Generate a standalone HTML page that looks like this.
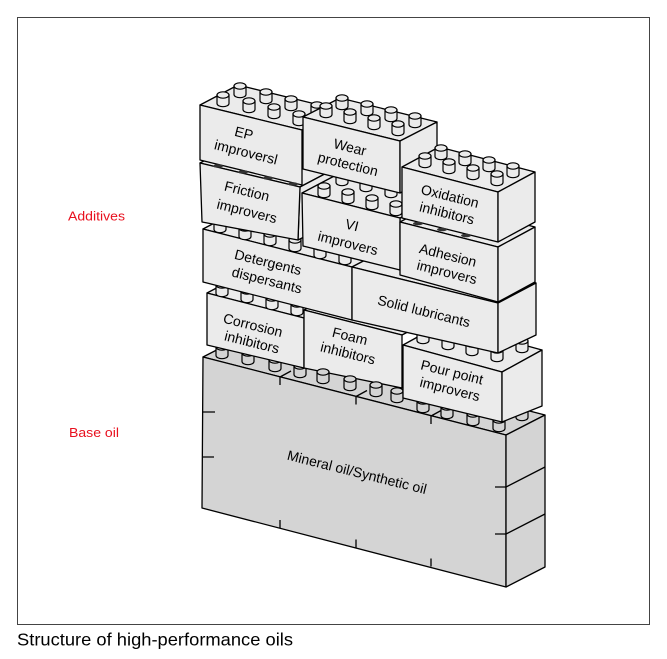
<!DOCTYPE html>
<html><head><meta charset="utf-8"><style>
html,body{margin:0;padding:0;background:#fff;}
svg{display:block;}
text{font-family:"Liberation Sans",Arial,sans-serif;}
</style></head><body>
<svg width="667" height="659" viewBox="0 0 667 659" xmlns="http://www.w3.org/2000/svg">
<defs>
<g id="s"><path d="M-6,0 V8.5 A6,3.2 0 0 0 6,8.5 V0 Z" fill="#ebebeb" stroke="#000" stroke-width="1.2"/><ellipse rx="6" ry="3.2" fill="#ebebeb" stroke="#000" stroke-width="1.2"/></g>
<g id="g"><path d="M-6,0 V8.5 A6,3.2 0 0 0 6,8.5 V0 Z" fill="#d4d4d4" stroke="#000" stroke-width="1.2"/><ellipse rx="6" ry="3.2" fill="#d4d4d4" stroke="#000" stroke-width="1.2"/></g>
</defs>
<rect x="17.5" y="17.5" width="632" height="607" fill="#fff" stroke="#444" stroke-width="1"/>

<g stroke="#000" stroke-width="1.3" stroke-linejoin="round">
<polygon points="203,357 506,435 545,415 242,337" fill="#d4d4d4"/>
<polygon points="203,357 506,435 506,587 202,508" fill="#d4d4d4"/>
<polygon points="506,435 545,415 545,567 506,587" fill="#d4d4d4"/>
<path d="M203,412 h12 M203,457 h11 M280,528 v-8 M356,547.5 v-8 M431,566.5 v-8 M280,377 v8 M356,396.5 v8 M431,416 v8 M280,377 l11,-6 M356,396.5 l11,-6 M431,416 l11,-6 M495,487 h11 l39,-20 M495,534 h11 l39,-20" fill="none"/>
</g>

<use href="#g" x="222" y="347"/><use href="#g" x="248" y="353"/><use href="#g" x="275" y="360"/><use href="#g" x="300" y="366"/>
<use href="#g" x="522" y="409"/>
<use href="#g" x="423" y="401"/><use href="#g" x="447" y="407"/><use href="#g" x="473" y="414"/><use href="#g" x="499" y="420"/>

<g stroke="#000" stroke-width="1.3" stroke-linejoin="round" fill="#ebebeb">
<polygon points="207,293 304,318 342,298 245,273"/>
<polygon points="207,293 304,318 304,368 207,345"/>
<polygon points="304,310 402,335 440,315 342,290"/>
<polygon points="304,310 402,335 402,388 304,368"/>
</g>

<use href="#g" x="323" y="372"/><use href="#g" x="350" y="379"/><use href="#g" x="376" y="385"/><use href="#g" x="397" y="391"/>

<g stroke="#000" stroke-width="1.3" stroke-linejoin="round" fill="#ebebeb">
<polygon points="403,345 502,372 542,350 443,323"/>
<polygon points="403,345 502,372 502,422 403,398"/>
<polygon points="502,372 542,350 542,406 502,422"/>
</g>

<use href="#s" x="522" y="341"/>
<use href="#s" x="423" y="332"/><use href="#s" x="448" y="338"/><use href="#s" x="472" y="344"/><use href="#s" x="497" y="350"/>
<use href="#s" x="222" y="285"/><use href="#s" x="247" y="291"/><use href="#s" x="272" y="298"/><use href="#s" x="297" y="304"/>

<g stroke="#000" stroke-width="1.3" stroke-linejoin="round" fill="#ebebeb">
<polygon points="203,229 352,267 390,247 241,209"/>
<polygon points="352,267 498,303 536,283 390,247"/>
<polygon points="203,229 352,267 352,320 203,282"/>
<polygon points="352,267 498,303 498,353 352,320"/>
<polygon points="498,303 536,283 536,335 498,353"/>
</g>

<use href="#s" x="220" y="221"/><use href="#s" x="245" y="228"/><use href="#s" x="270" y="234"/><use href="#s" x="295" y="240"/><use href="#s" x="320" y="247"/><use href="#s" x="345" y="253"/>

<g stroke="#000" stroke-width="1.3" stroke-linejoin="round" fill="#ebebeb">
<polygon points="200,163 300,187 338,167 238,143"/>
<polygon points="300,187 338,167 338,220 298,240"/>
<polygon points="200,163 300,187 298,240 202,222"/>
<polygon points="400,218 438,198 438,250 400,270"/>
<polygon points="302,193 400,218 438,198 340,173"/>
<polygon points="302,193 400,218 400,270 303,246"/>
<polygon points="400,222 498,247 535,227 437,202"/>
<polygon points="400,222 498,247 498,302 400,275"/>
<polygon points="498,247 535,227 535,282 498,302"/>
</g>

<use href="#s" x="342" y="174"/><use href="#s" x="366" y="180"/><use href="#s" x="391" y="186"/><use href="#s" x="415" y="192"/>

<g stroke="#000" stroke-width="1.3" stroke-linejoin="round" fill="#ebebeb">
<polygon points="200,105 302,130 340,110 238,85"/>
<polygon points="200,105 302,130 302,185 200,160"/>
</g>
<use href="#s" x="240" y="86"/><use href="#s" x="266" y="92"/><use href="#s" x="291" y="99"/><use href="#s" x="317" y="105"/>
<use href="#s" x="223" y="95"/><use href="#s" x="249" y="101"/><use href="#s" x="274" y="107"/><use href="#s" x="299" y="114"/>

<g stroke="#000" stroke-width="1.3" stroke-linejoin="round" fill="#ebebeb">
<polygon points="303,117 400,141 437,122 340,98"/>
<polygon points="303,117 400,141 400,193 303,169"/>
<polygon points="400,141 437,122 437,174 400,193"/>
</g>
<use href="#s" x="342" y="98"/><use href="#s" x="367" y="104"/><use href="#s" x="391" y="110"/><use href="#s" x="415" y="116"/>
<use href="#s" x="326" y="106"/><use href="#s" x="350" y="112"/><use href="#s" x="374" y="118"/><use href="#s" x="398" y="124"/>

<use href="#s" x="324" y="186"/><use href="#s" x="348" y="192"/><use href="#s" x="372" y="198"/><use href="#s" x="396" y="204"/>

<g stroke="#000" stroke-width="1.3" stroke-linejoin="round" fill="#ebebeb">
<polygon points="402,167 498,192 535,172 439,147"/>
<polygon points="402,167 498,192 498,242 402,218"/>
<polygon points="498,192 535,172 535,222 498,242"/>
</g>
<use href="#s" x="441" y="148"/><use href="#s" x="465" y="154"/><use href="#s" x="489" y="160"/><use href="#s" x="513" y="166"/>
<use href="#s" x="425" y="156"/><use href="#s" x="449" y="162"/><use href="#s" x="473" y="168"/><use href="#s" x="497" y="174"/>

<g fill="#333">
<ellipse cx="218" cy="166" rx="5" ry="1.8"/><ellipse cx="243" cy="172" rx="5" ry="1.8"/><ellipse cx="268" cy="178" rx="5" ry="1.8"/><ellipse cx="293" cy="184" rx="5" ry="1.8"/>
<ellipse cx="418" cy="223.5" rx="5" ry="1.8"/><ellipse cx="442" cy="229.5" rx="5" ry="1.8"/><ellipse cx="466" cy="235.5" rx="5" ry="1.8"/>
</g>

<g font-size="14" fill="#000" text-anchor="middle">
<text transform="translate(244,133) rotate(14)" y="5">EP</text>
<text transform="translate(246,152) rotate(14)" y="5">improversl</text>
<text transform="translate(350,147) rotate(14)" y="5">Wear</text>
<text transform="translate(348,164) rotate(14)" y="5">protection</text>
<text transform="translate(247,191) rotate(14)" y="5">Friction</text>
<text transform="translate(247,211) rotate(14)" y="5">improvers</text>
<text transform="translate(352,225) rotate(14)" y="5">VI</text>
<text transform="translate(348,243) rotate(14)" y="5">improvers</text>
<text transform="translate(450,196) rotate(14)" y="5">Oxidation</text>
<text transform="translate(447,213) rotate(14)" y="5">inhibitors</text>
<text transform="translate(448,255) rotate(14)" y="5">Adhesion</text>
<text transform="translate(447,272) rotate(14)" y="5">improvers</text>
<text transform="translate(268,262) rotate(14)" y="5">Detergents</text>
<text transform="translate(267,280) rotate(14)" y="5">dispersants</text>
<text transform="translate(424,311) rotate(14)" y="5">Solid lubricants</text>
<text transform="translate(253,325) rotate(14)" y="5">Corrosion</text>
<text transform="translate(252,342) rotate(14)" y="5">inhibitors</text>
<text transform="translate(350,336) rotate(14)" y="5">Foam</text>
<text transform="translate(348,353) rotate(14)" y="5">inhibitors</text>
<text transform="translate(452,372) rotate(14)" y="5">Pour point</text>
<text transform="translate(450,389) rotate(14)" y="5">improvers</text>
<text transform="translate(357,472) rotate(14)" y="5">Mineral oil/Synthetic oil</text>
</g>

<text x="68" y="220.5" font-size="12.5" fill="#e8101e" textLength="57" lengthAdjust="spacingAndGlyphs">Additives</text>
<text x="69" y="437" font-size="12.5" fill="#e8101e" textLength="50" lengthAdjust="spacingAndGlyphs">Base oil</text>
<text x="17" y="645.5" font-size="17.5" fill="#000" textLength="276" lengthAdjust="spacingAndGlyphs">Structure of high-performance oils</text>
</svg>
</body></html>
